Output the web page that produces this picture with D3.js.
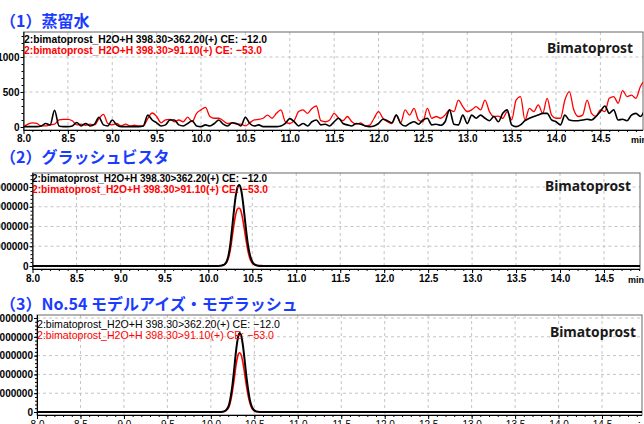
<!DOCTYPE html>
<html>
<head>
<meta charset="utf-8">
<script src="https://cdn.jsdelivr.net/npm/d3@7"></script>
<style>
    body { margin: 0; background: #fff; }
    svg { display: block; }
</style>
</head>
<body>
<svg id="chart"></svg>
<script>

// ---- data -------------------------------------------------------------

// panel (1): distilled water, sampled every 0.05 min (counts)
const noiseTimes = [8.00, 8.05, 8.10, 8.15, 8.20, 8.25, 8.30, 8.35, 8.40, 8.45,
    8.50, 8.55, 8.60, 8.65, 8.70, 8.75, 8.80, 8.85, 8.90, 8.95,
    9.00, 9.05, 9.10, 9.15, 9.20, 9.25, 9.30, 9.35, 9.40, 9.45,
    9.50, 9.55, 9.60, 9.65, 9.70, 9.75, 9.80, 9.85, 9.90, 9.95,
    10.00, 10.05, 10.10, 10.15, 10.20, 10.25, 10.30, 10.35, 10.40, 10.45,
    10.50, 10.55, 10.60, 10.65, 10.70, 10.75, 10.80, 10.85, 10.90, 10.95,
    11.00, 11.05, 11.10, 11.15, 11.20, 11.25, 11.30, 11.35, 11.40, 11.45,
    11.50, 11.55, 11.60, 11.65, 11.70, 11.75, 11.80, 11.85, 11.90, 11.95,
    12.00, 12.05, 12.10, 12.15, 12.20, 12.25, 12.30, 12.35, 12.40, 12.45,
    12.50, 12.55, 12.60, 12.65, 12.70, 12.75, 12.80, 12.85, 12.90, 12.95,
    13.00, 13.05, 13.10, 13.15, 13.20, 13.25, 13.30, 13.35, 13.40, 13.45,
    13.50, 13.55, 13.60, 13.65, 13.70, 13.75, 13.80, 13.85, 13.90, 13.95,
    14.00, 14.05, 14.10, 14.15, 14.20, 14.25, 14.30, 14.35, 14.40, 14.45,
    14.50, 14.55, 14.60, 14.65, 14.70, 14.75, 14.80, 14.85, 14.90, 14.95,
    15.00]

const water362 = [5, 5, 5, 5, 15, 50, 30, 240, 15, 5,
    5, 15, 65, 15, 50, 15, 40, 140, 30, 15,
    100, 30, 5, 5, 5, 5, 5, 15, 170, 100,
    60, 15, 30, 100, 100, 30, 15, 50, 90, 15,
    5, 30, 15, 50, 100, 40, 15, 60, 50, 15,
    140, 50, 15, 30, 5, 5, 5, 5, 15, 50,
    120, 75, 15, 50, 15, 75, 100, 30, 40, 15,
    75, 125, 50, 30, 15, 50, 40, 15, 5, 15,
    50, 110, 90, 60, 170, 50, 15, 50, 75, 40,
    100, 125, 30, 40, 25, 75, 245, 40, 30, 170,
    50, 170, 125, 170, 125, 90, 150, 75, 195, 245,
    30, 5, 30, 90, 125, 150, 170, 195, 195, 100,
    75, 30, 170, 100, 90, 90, 100, 110, 100, 150,
    220, 300, 195, 245, 100, 110, 90, 170, 195, 150,
    245]

const water91 = [5, 40, 60, 50, 15, 15, 30, 40, 100, 110,
    110, 90, 30, 40, 25, 40, 30, 120, 180, 50,
    30, 50, 15, 40, 15, 25, 15, 15, 120, 200,
    150, 60, 100, 110, 75, 100, 75, 140, 75, 195,
    245, 280, 150, 125, 125, 90, 50, 60, 40, 40,
    15, 60, 100, 110, 125, 170, 125, 195, 245, 75,
    50, 90, 220, 245, 195, 265, 300, 90, 75, 100,
    195, 125, 90, 150, 75, 40, 60, 15, 25, 125,
    220, 125, 75, 50, 170, 60, 245, 170, 265, 100,
    75, 265, 125, 150, 125, 170, 245, 220, 385, 290,
    220, 245, 290, 245, 385, 220, 150, 155, 125, 220,
    100, 385, 435, 100, 265, 220, 315, 195, 410, 170,
    125, 125, 385, 505, 245, 150, 170, 385, 195, 150,
    245, 220, 410, 435, 340, 520, 435, 455, 410, 575,
    670]

// panels (2) and (3): peak region every 0.02 min (counts)
const peakTimes = [8.00, 10.11, 10.13, 10.15, 10.17, 10.19, 10.21, 10.23, 10.25, 10.27,
    10.29, 10.31, 10.33, 10.35, 10.37, 10.39, 10.41, 10.43, 10.45, 10.47,
    10.49, 10.51, 10.53, 10.55, 10.57, 10.59, 10.61, 10.63, 15.00]

const glash362 = [0, 0, 0.01e6, 0.02e6, 0.05e6, 0.11e6, 0.25e6, 0.55e6, 1.10e6, 1.90e6,
    2.75e6, 3.50e6, 3.95e6, 4.10e6, 3.92e6, 3.38e6, 2.60e6, 1.80e6, 1.10e6, 0.62e6,
    0.31e6, 0.15e6, 0.07e6, 0.03e6, 0.01e6, 0, 0, 0, 0]
const glash91 = [0, 0, 0.01e6, 0.02e6, 0.04e6, 0.09e6, 0.20e6, 0.42e6, 0.82e6, 1.42e6,
    2.05e6, 2.58e6, 2.88e6, 2.94e6, 2.80e6, 2.40e6, 1.85e6, 1.28e6, 0.78e6, 0.42e6,
    0.21e6, 0.10e6, 0.05e6, 0.03e6, 0.02e6, 0.02e6, 0.02e6, 0.01e6, 0]

const model362 = [0, 0, 0.01e6, 0.03e6, 0.08e6, 0.18e6, 0.40e6, 0.85e6, 1.50e6, 2.35e6,
    3.25e6, 3.90e6, 4.20e6, 4.05e6, 3.50e6, 2.70e6, 1.85e6, 1.15e6, 0.62e6, 0.30e6,
    0.14e6, 0.06e6, 0.02e6, 0.01e6, 0, 0, 0, 0, 0]
const model91 = [0, 0, 0.01e6, 0.02e6, 0.06e6, 0.14e6, 0.30e6, 0.64e6, 1.15e6, 1.80e6,
    2.50e6, 2.98e6, 3.15e6, 3.02e6, 2.60e6, 2.00e6, 1.38e6, 0.85e6, 0.46e6, 0.22e6,
    0.10e6, 0.04e6, 0.02e6, 0.01e6, 0, 0, 0, 0, 0]

// ticks
const xTicks = [8.0, 8.5, 9.0, 9.5, 10.0, 10.5, 11.0, 11.5, 12.0, 12.5, 13.0, 13.5, 14.0, 14.5]
const yTicksWater = [0, 500, 1000]
const yTicksMillion = [0, 1000000, 2000000, 3000000, 4000000]
const yTicksMillion5 = [0, 1000000, 2000000, 3000000, 4000000, 5000000]

const titles = ['（1）蒸留水', '（2）グラッシュビスタ', '（3）No.54 モデルアイズ・モデラッシュ']
const traceLabels = ['2:bimatoprost_H2O+H 398.30>362.20(+) CE: −12.0',
    '2:bimatoprost_H2O+H 398.30>91.10(+) CE: −53.0']
const compound = 'Bimatoprost'


class Chromatogram {

    constructor(svg, cfg) {
        let vis = this
        vis.svg = svg
        vis.cfg = cfg

        vis.x = d3.scaleLinear().domain([8, cfg.xMax]).range([cfg.left, cfg.right])
        vis.y = d3.scaleLinear().domain(cfg.yDomain).range([cfg.bottom, cfg.top])

        vis.g = svg.append('g')
        vis.drawFrame()
        vis.drawTraces()
        vis.drawText()
    }

    drawFrame() {
        let vis = this
        let cfg = vis.cfg

        // dashed grid
        vis.g.append('g')
            .selectAll('line')
            .data(xTicks.filter(d => d > 8))
            .join('line')
            .attr('x1', d => vis.x(d)).attr('x2', d => vis.x(d))
            .attr('y1', cfg.top).attr('y2', cfg.bottom)
            .attr('stroke', '#c4c4c4')
            .attr('stroke-dasharray', '3,3')
        vis.g.append('g')
            .selectAll('line')
            .data(cfg.yTicks.filter(d => d > 0))
            .join('line')
            .attr('x1', cfg.left).attr('x2', cfg.right)
            .attr('y1', d => vis.y(d)).attr('y2', d => vis.y(d))
            .attr('stroke', '#c4c4c4')
            .attr('stroke-dasharray', '3,3')

        vis.g.append('rect')
            .attr('x', cfg.left).attr('y', cfg.top)
            .attr('width', cfg.right - cfg.left)
            .attr('height', cfg.bottom - cfg.top)
            .attr('fill', 'none')
            .attr('stroke', '#666')

        // x axis, minor then major
        let minor = d3.range(81, 150).map(d => d / 10)
        vis.g.append('g')
            .attr('transform', `translate(0,${cfg.bottom})`)
            .call(d3.axisBottom(vis.x).tickValues(minor).tickSize(2).tickFormat(''))
            .call(a => a.select('.domain').remove())
        let xAxis = vis.g.append('g')
            .attr('transform', `translate(0,${cfg.bottom})`)
            .call(d3.axisBottom(vis.x).tickValues(xTicks).tickSize(4).tickPadding(cfg.xPad)
                .tickFormat(d3.format('.1f')))
        xAxis.select('.domain').attr('d', `M${cfg.left},0.5H${cfg.right}`)
        xAxis.selectAll('text')
            .attr('font-family', 'Liberation Sans, Arial, sans-serif')
            .attr('font-size', 10)
            .attr('font-weight', cfg.xBold ? 'bold' : 'normal')
            .attr('fill', '#000')
        vis.g.append('text')
            .text('min')
            .attr('x', cfg.right - 12)
            .attr('y', cfg.bottom + cfg.xPad + 12)
            .attr('font-family', 'Liberation Sans, Arial, sans-serif')
            .attr('font-size', 9)
            .attr('font-weight', 'bold')

        // y axis
        vis.g.append('g')
            .attr('transform', `translate(${cfg.left},0)`)
            .call(d3.axisLeft(vis.y).tickValues(cfg.yMinor).tickSize(2).tickFormat(''))
            .call(a => a.select('.domain').remove())
        let yAxis = vis.g.append('g')
            .attr('transform', `translate(${cfg.left},0)`)
            .call(d3.axisLeft(vis.y).tickValues(cfg.yTicks).tickSize(3).tickPadding(1)
                .tickFormat(d3.format('d')))
        yAxis.select('.domain').attr('d', `M0.5,${cfg.top}V${cfg.bottom}`)
        yAxis.selectAll('text')
            .attr('font-family', 'Liberation Sans, Arial, sans-serif')
            .attr('font-size', 10)
            .attr('font-weight', 'bold')
            .attr('fill', '#000')
    }

    drawTraces() {
        let vis = this
        let cfg = vis.cfg

        let clipId = 'clip' + cfg.id
        vis.g.append('clipPath')
            .attr('id', clipId)
            .append('rect')
            .attr('x', cfg.left).attr('y', cfg.top)
            .attr('width', cfg.right - cfg.left)
            .attr('height', cfg.bottom - cfg.top)

        let line = d3.line()
            .x(d => vis.x(d[0]))
            .y(d => vis.y(d[1]))
            .curve(d3.curveMonotoneX)

        let traces = [
            {values: cfg.red, color: '#ff0000', width: cfg.redWidth},
            {values: cfg.black, color: '#000000', width: cfg.blackWidth}
        ]
        vis.g.append('g')
            .attr('clip-path', `url(#${clipId})`)
            .selectAll('path')
            .data(traces)
            .join('path')
            .attr('d', d => line(d3.zip(cfg.times, d.values)))
            .attr('fill', 'none')
            .attr('stroke', d => d.color)
            .attr('stroke-width', d => d.width)
            .attr('stroke-linejoin', 'round')
    }

    drawText() {
        let vis = this
        let cfg = vis.cfg

        vis.g.append('text')
            .text(cfg.title)
            .attr('x', 0)
            .attr('y', cfg.titleY)
            .attr('font-family', 'Noto Sans CJK JP, sans-serif')
            .attr('font-size', 16)
            .attr('font-weight', 'bold')
            .attr('fill', '#1a3cff')

        let colors = ['#000', '#ff0000']
        traceLabels.forEach((t, i) => {
            vis.g.append('text')
                .text(t)
                .attr('x', cfg.labelX)
                .attr('y', cfg.labelY + i * cfg.labelGap)
                .attr('textLength', cfg.labelLen[i])
                .attr('lengthAdjust', 'spacingAndGlyphs')
                .attr('font-family', 'Liberation Sans, Arial, sans-serif')
                .attr('font-size', 11)
                .attr('font-weight', cfg.labelBold ? 'bold' : 'normal')
                .attr('fill', colors[i])
        })

        vis.g.append('text')
            .text(compound)
            .attr('x', cfg.compoundX)
            .attr('y', cfg.compoundY)
            .attr('textLength', 86)
            .attr('lengthAdjust', 'spacingAndGlyphs')
            .attr('font-family', 'Noto Sans, sans-serif')
            .attr('font-size', 15)
            .attr('font-weight', 'bold')
            .attr('fill', '#1a1a1a')
    }
}


let svg = d3.select('#chart')
    .attr('width', 644)
    .attr('height', 424)

svg.append('rect').attr('width', 644).attr('height', 424).attr('fill', '#fff')

new Chromatogram(svg, {
    id: 1, title: titles[0], titleY: 27,
    left: 23.5, right: 643, top: 32, bottom: 130, xMax: 14.98, xPad: 1, xBold: true,
    yDomain: [-43, 1357], yTicks: yTicksWater, yMinor: d3.range(0, 1301, 100),
    times: noiseTimes, black: water362, red: water91, blackWidth: 1.6, redWidth: 1.3,
    labelX: 24, labelY: 43, labelGap: 11, labelLen: [243, 238], labelBold: true,
    compoundX: 547, compoundY: 53
})

new Chromatogram(svg, {
    id: 2, title: titles[1], titleY: 163,
    left: 32.5, right: 640, top: 173, bottom: 269, xMax: 14.91, xPad: 2, xBold: true,
    yDomain: [-0.152e6, 4.71e6], yTicks: yTicksMillion, yMinor: d3.range(0, 4.61e6, 0.2e6),
    times: peakTimes, black: glash362, red: glash91, blackWidth: 2, redWidth: 1.6,
    labelX: 32, labelY: 182, labelGap: 11, labelLen: [235, 236], labelBold: true,
    compoundX: 545, compoundY: 191
})

new Chromatogram(svg, {
    id: 3, title: titles[2], titleY: 310,
    left: 37, right: 642, top: 315, bottom: 415, xMax: 14.96, xPad: 2, xBold: false,
    yDomain: [-0.16e6, 5.16e6], yTicks: yTicksMillion5, yMinor: d3.range(0, 5.01e6, 0.2e6),
    times: peakTimes, black: model362, red: model91, blackWidth: 2, redWidth: 1.6,
    labelX: 37, labelY: 328, labelGap: 11, labelLen: [243, 237], labelBold: false,
    compoundX: 550, compoundY: 337
})

</script>
</body>
</html>
